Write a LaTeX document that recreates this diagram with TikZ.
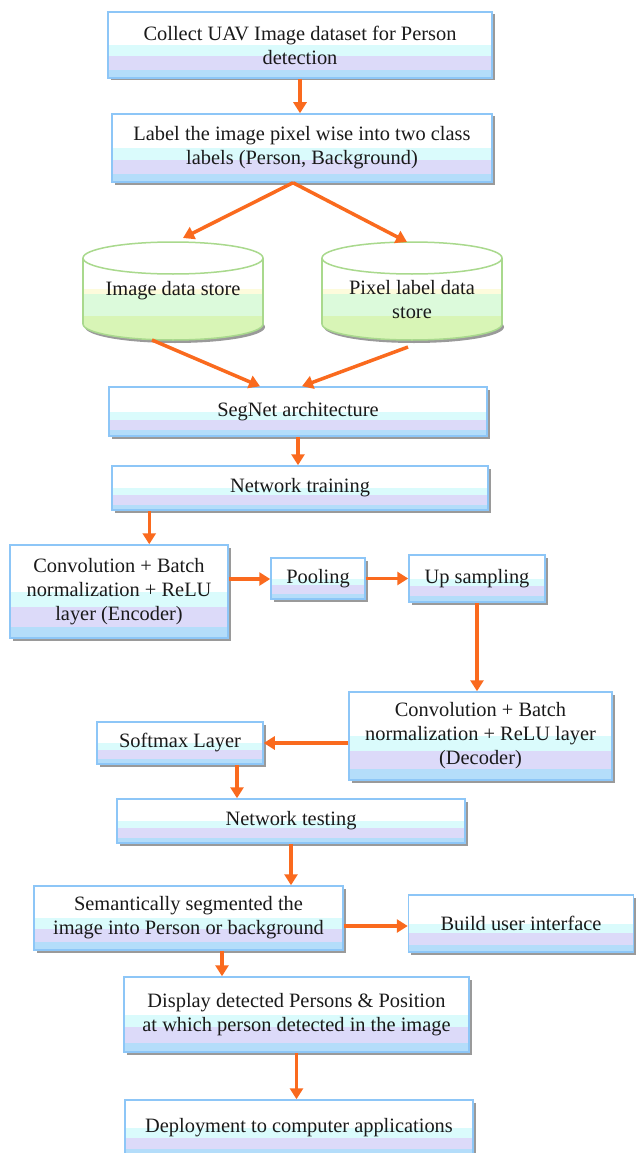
\documentclass[tikz,border=0pt]{standalone}
\usepackage{fontspec}
\setmainfont{Liberation Serif}
\usetikzlibrary{arrows.meta,calc,shadows}
\definecolor{boxborder}{HTML}{8DC6F7}
\definecolor{bandcyan}{HTML}{DAFBFC}
\definecolor{bandlav}{HTML}{DCDAF9}
\definecolor{bandblue}{HTML}{B4DDFA}
\definecolor{shadowgray}{HTML}{9A9A9A}
\definecolor{arrorange}{HTML}{FA6A1E}
\definecolor{cylborder}{HTML}{A9D98D}
\definecolor{cylyel}{HTML}{FDFBDC}
\definecolor{cylmint}{HTML}{DCFADB}
\definecolor{cylgreen}{HTML}{D8F5B6}
\definecolor{txt}{HTML}{1A1A1A}
\tikzset{
  flowbox/.style={draw=boxborder, line width=1.5pt, fill=white, text=txt, align=center, inner sep=0pt,
    font=\fontsize{20.4pt}{24pt}\selectfont,
    drop shadow={shadow xshift=2.5pt, shadow yshift=-2.5pt, fill=shadowgray, opacity=1},
    path picture={
      \fill[bandcyan] ($(path picture bounding box.north west)!0.5!(path picture bounding box.south west)$) rectangle (path picture bounding box.south east);
      \fill[bandlav] ($(path picture bounding box.north west)!0.67!(path picture bounding box.south west)$) rectangle (path picture bounding box.south east);
      \fill[bandblue] ($(path picture bounding box.north west)!0.88!(path picture bounding box.south west)$) rectangle (path picture bounding box.south east);
    }},
  cyltext/.style={text=txt, align=center, inner sep=0pt, font=\fontsize{20.4pt}{24pt}\selectfont},
  cylline/.style={draw=cylborder, line width=1.5pt},
  arr/.style={draw=arrorange, line width=3.5pt, -{Triangle[length=11pt,width=13pt]}},
}
\begin{document}
\begin{tikzpicture}[x=1pt,y=-1pt]
\useasboundingbox (0,0) rectangle (635,1153);
\fill[white] (0,0) rectangle (635,1153);

% cylinders
\foreach \cx in {173,412}{
  \fill[shadowgray] (\cx+2,327) ellipse [x radius=90, y radius=16];
  \fill[cylgreen] (\cx,324) ellipse [x radius=90, y radius=16];
  \fill[white] (\cx-90,258) rectangle (\cx+90,289);
  \fill[cylyel] (\cx-90,289) rectangle (\cx+90,294);
  \fill[cylmint] (\cx-90,294) rectangle (\cx+90,316);
  \fill[cylgreen] (\cx-90,316) rectangle (\cx+90,324);
  \begin{scope}
    \clip (\cx-95,324) rectangle (\cx+95,345);
    \draw[cylline] (\cx,324) ellipse [x radius=90, y radius=16];
  \end{scope}
  \draw[cylline] (\cx-90,258) -- (\cx-90,324) (\cx+90,258) -- (\cx+90,324);
  \filldraw[fill=white, cylline] (\cx,258) ellipse [x radius=90, y radius=16];
}
\node[cyltext] (imgstore) at (173,291) {Image data store};
\node[cyltext] (pixstore) at (412,300) {Pixel label data\\store};

% boxes
\node[flowbox, minimum width=384pt, minimum height=66pt] (collect) at (300,45) {Collect UAV Image dataset for Person\\detection};
\node[flowbox, minimum width=380pt, minimum height=68pt] (label) at (302,148) {Label the image pixel wise into two class\\labels (Person, Background)};
\node[flowbox, minimum width=378pt, minimum height=49pt] (segnet) at (298,411.5) {SegNet architecture};
\node[flowbox, minimum width=376pt, minimum height=44pt] (training) at (300,488) {Network training};
\node[flowbox, minimum width=218pt, minimum height=93pt] (encoder) at (119,591.5) {Convolution + Batch\\normalization + ReLU\\layer (Encoder)};
\node[flowbox, minimum width=94pt, minimum height=41pt] (pooling) at (318,578.5) {Pooling};
\node[flowbox, minimum width=136pt, minimum height=47pt] (upsamp) at (477,578.5) {Up sampling};
\node[flowbox, minimum width=263pt, minimum height=88pt] (decoder) at (480.5,736) {Convolution + Batch\\normalization + ReLU layer\\(Decoder)};
\node[flowbox, minimum width=166pt, minimum height=42pt] (softmax) at (180,743) {Softmax Layer};
\node[flowbox, minimum width=348pt, minimum height=44pt] (testing) at (291,821) {Network testing};
\node[flowbox, minimum width=309pt, minimum height=64pt] (semantic) at (188.5,918) {Semantically segmented the\\image into Person or background};
\node[flowbox, minimum width=225pt, minimum height=57pt] (buildui) at (521,923.5) {Build user interface};
\node[flowbox, minimum width=345pt, minimum height=75pt] (display) at (296.5,1014.5) {Display detected Persons \& Position\\at which person detected in the image};
\node[flowbox, minimum width=348pt, minimum height=56pt] (deploy) at (299,1128) {Deployment to computer applications};

% connectors
\draw[arr] (collect.south) -- (collect.south |- label.north);
\draw[arr] ([xshift=-9pt]label.south) -- ([xshift=10pt,yshift=53pt]imgstore.center);
\draw[arr] ([xshift=-9pt]label.south) -- ([xshift=-5pt,yshift=58pt]pixstore.center);
\draw[arr] ([xshift=-21pt,yshift=-49pt]imgstore.center) -- ([xshift=-38pt]segnet.north);
\draw[arr] ([xshift=-4pt,yshift=-47pt]pixstore.center) -- ([xshift=4pt]segnet.north);
\draw[arr] (segnet.south) -- (segnet.south |- training.north);
\draw[arr] ([xshift=38pt]training.south west) coordinate (t7) -- (t7 |- encoder.north);
\draw[arr] ([yshift=12.5pt]encoder.east) coordinate (t8) -- (t8 -| pooling.west);
\draw[arr] (pooling.east) -- (pooling.east -| upsamp.west);
\draw[arr] (upsamp.south) -- (upsamp.south |- decoder.north);
\draw[arr] (decoder.west |- softmax.east) -- (softmax.east);
\draw[arr] ([xshift=57pt]softmax.south) coordinate (t12) -- (t12 |- testing.north);
\draw[arr] (testing.south) -- (testing.south |- semantic.north);
\draw[arr] ([yshift=-8pt]semantic.east) coordinate (t14) -- (t14 -| buildui.west);
\draw[arr] ([xshift=33.5pt]semantic.south) coordinate (t15) -- (t15 |- display.north);
\draw[arr] (display.south) -- (display.south |- deploy.north);
\end{tikzpicture}
\end{document}
